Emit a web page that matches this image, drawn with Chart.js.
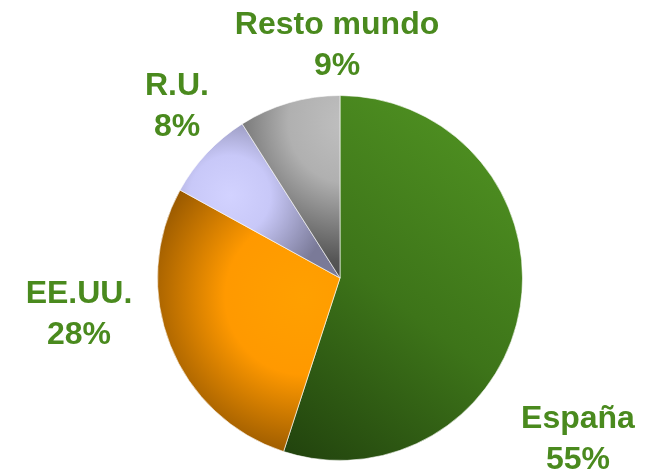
<!DOCTYPE html>
<html>
<head>
<meta charset="utf-8">
<script src="https://cdn.jsdelivr.net/npm/chart.js@4/dist/chart.umd.min.js"></script>
<style>
    html, body { margin: 0; padding: 0; background: #ffffff; }
    #wrap { width: 650px; height: 473px; position: relative; }
</style>
</head>
<body>
<div id="wrap"><canvas id="shareChart"></canvas></div>
<script>
// Data
const regions = ['España', 'EE.UU.', 'R.U.', 'Resto mundo'];
const shares = [55, 28, 8, 9];

// Label anchors (first baseline, px offset from pie centre)
const labelOffsets = [
    { dx: 238, dy: 150 },
    { dx: -261, dy: 25 },
    { dx: -163, dy: -183 },
    { dx: -3, dy: -244 }
];

const labelColor = '#4a8a1e';

// Shading for each slice, built from the pie centre and radius
function sliceFill(context) {
    const chart = context.chart;
    const area = chart.chartArea;
    if (!area) return '#888';
    const c = chart.ctx;
    const cx = (area.left + area.right) / 2;
    const cy = (area.top + area.bottom) / 2;
    const r = Math.min(area.right - area.left, area.bottom - area.top) / 2;
    let g;
    switch (context.dataIndex) {
        case 0:
            g = c.createLinearGradient(cx + r * 0.7, cy - r * 0.7, cx - r * 0.5, cy + r * 0.9);
            g.addColorStop(0, '#4c8c20');
            g.addColorStop(0.45, '#3d7419');
            g.addColorStop(1, '#20400d');
            return g;
        case 1:
            g = c.createRadialGradient(cx - r * 0.2, cy + r * 0.1, 0, cx - r * 0.2, cy + r * 0.1, r * 0.95);
            g.addColorStop(0, '#ffa000');
            g.addColorStop(0.45, '#ff9900');
            g.addColorStop(1, '#8a5000');
            return g;
        case 2:
            g = c.createRadialGradient(cx - r * 0.6, cy - r * 0.45, 0, cx - r * 0.6, cy - r * 0.45, r * 0.55);
            g.addColorStop(0, '#d2d2ff');
            g.addColorStop(0.4, '#c8c8f8');
            g.addColorStop(1, '#7a7a98');
            return g;
        default:
            g = c.createRadialGradient(cx + r * 0.05, cy - r * 0.85, 0, cx + r * 0.05, cy - r * 0.85, r * 0.95);
            g.addColorStop(0, '#c0c0c0');
            g.addColorStop(0.35, '#b0b0b0');
            g.addColorStop(0.8, '#555555');
            g.addColorStop(1, '#444444');
            return g;
    }
}

// Draws "name / xx%" beside each slice
const outsideLabels = {
    id: 'outsideLabels',
    afterDatasetsDraw(chart) {
        const meta = chart.getDatasetMeta(0);
        const arc = meta.data[0];
        if (!arc) return;
        const ctx = chart.ctx;
        ctx.save();
        ctx.fillStyle = labelColor;
        ctx.font = 'bold 32px "Liberation Sans", Arial, sans-serif';
        ctx.textAlign = 'center';
        ctx.textBaseline = 'alphabetic';
        regions.forEach((name, i) => {
            const x = arc.x + labelOffsets[i].dx;
            const y = arc.y + labelOffsets[i].dy;
            ctx.fillText(name, x, y);
            ctx.fillText(shares[i] + '%', x, y + 41);
        });
        ctx.restore();
    }
};

new Chart(document.getElementById('shareChart'), {
    type: 'pie',
    data: {
        labels: regions,
        datasets: [{
            data: shares,
            backgroundColor: sliceFill,
            borderColor: 'rgba(255, 255, 255, 0.6)',
            borderWidth: 1
        }]
    },
    options: {
        responsive: true,
        maintainAspectRatio: false,
        animation: false,
        layout: {
            padding: { left: 157, right: 127, top: 95, bottom: 12 }
        },
        plugins: {
            legend: { display: false },
            tooltip: { enabled: false }
        }
    },
    plugins: [outsideLabels]
});
</script>
</body>
</html>
